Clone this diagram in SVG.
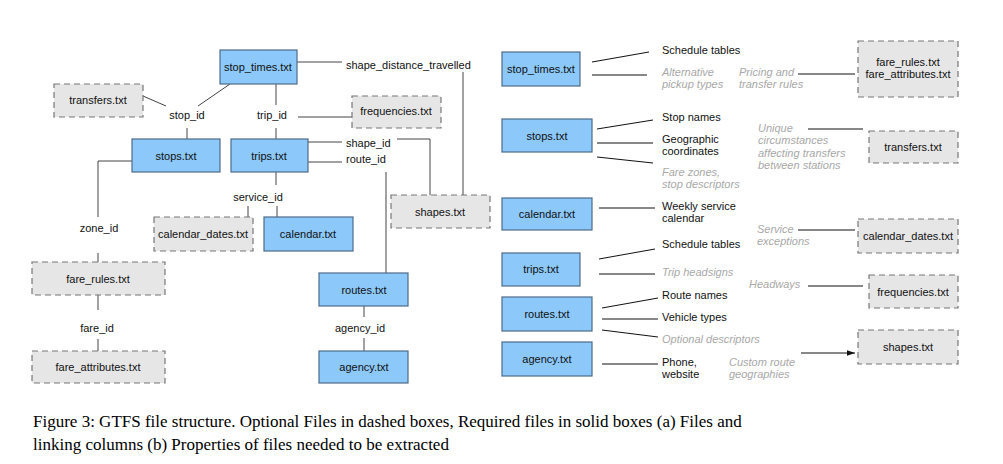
<svg xmlns="http://www.w3.org/2000/svg" width="1003" height="464" viewBox="0 0 1003 464">
<style>
text{font-family:"Liberation Sans",Arial,sans-serif;font-size:11px;fill:#111}
.c{text-anchor:middle}
.g{fill:#a8a8a8;font-style:italic}
.req{fill:#8cc8fa;stroke:#4d6b88;stroke-width:1.2}
.opt{fill:#e6e6e6;stroke:#777;stroke-width:1.2;stroke-dasharray:6 4}
.ln{fill:none;stroke:#444;stroke-width:1}
.ar{fill:none;stroke:#111;stroke-width:1;marker-end:url(#a)}
.cap{font-family:"Liberation Serif","Times New Roman",serif;font-size:17px;fill:#000}
</style>
<defs><marker id="a" viewBox="0 0 10 10" refX="10" refY="5" markerWidth="8" markerHeight="8" orient="auto"><path d="M0,1.5L10,5L0,8.5z" fill="#111"/></marker></defs>
<rect width="1003" height="464" fill="#fff"/>
<g id="connectors">
<path class="ln" d="M297,62H342M463,72V195M230,84L198,106M143,96L166,106M187,128V139M276,84V105M276,128V139M298,117H352M308,142H342M308,162H342M397,139H430V195M386,172V273M276,172V185M248,206V217M277,206V217M132,161H98V217M98,253V262M98,295V310M98,339V351M364,306V317M364,338V351"/>
<path class="ar" d="M649,52L592,62M647,75H592M653,120L597,129M653,143H597M653,163L597,157M655,208H599M655,249L599,259M655,274H599M658,298L602,308M658,319H602M658,337L602,330M658,364H602M798,74H855M808,129H863M798,230H855M808,286H863M801,353H855"/>
</g>
<g id="stop_times"><rect class="req" x="220" y="50" width="77" height="34"/><text class="c" x="258" y="71">stop_times.txt</text></g>
<g id="transfers"><rect class="opt" x="54" y="84" width="89" height="33"/><text class="c" x="98" y="104">transfers.txt</text></g>
<g id="frequencies"><rect class="opt" x="352" y="96" width="89" height="32"/><text class="c" x="396" y="115">frequencies.txt</text></g>
<g id="stops"><rect class="req" x="132" y="139" width="88" height="33"/><text class="c" x="176" y="160">stops.txt</text></g>
<g id="trips"><rect class="req" x="231" y="139" width="77" height="33"/><text class="c" x="269" y="160">trips.txt</text></g>
<g id="shapes"><rect class="opt" x="391" y="195" width="99" height="33"/><text class="c" x="440" y="216">shapes.txt</text></g>
<g id="calendar_dates"><rect class="opt" x="154" y="217" width="99" height="34"/><text class="c" x="203" y="238">calendar_dates.txt</text></g>
<g id="calendar"><rect class="req" x="264" y="217" width="89" height="34"/><text class="c" x="308" y="238">calendar.txt</text></g>
<g id="fare_rules"><rect class="opt" x="32" y="262" width="133" height="33"/><text class="c" x="98" y="283">fare_rules.txt</text></g>
<g id="fare_attributes"><rect class="opt" x="32" y="351" width="133" height="32"/><text class="c" x="98" y="371">fare_attributes.txt</text></g>
<g id="routes"><rect class="req" x="319" y="273" width="89" height="33"/><text class="c" x="364" y="294">routes.txt</text></g>
<g id="agency"><rect class="req" x="319" y="351" width="89" height="32"/><text class="c" x="364" y="371">agency.txt</text></g>
<g id="edge-labels">
<text x="346" y="69">shape_distance_travelled</text>
<text class="c" x="187" y="119">stop_id</text>
<text class="c" x="272" y="119">trip_id</text>
<text x="346" y="147">shape_id</text>
<text x="346" y="163">route_id</text>
<text class="c" x="258" y="201">service_id</text>
<text class="c" x="99" y="232">zone_id</text>
<text class="c" x="97" y="332">fare_id</text>
<text class="c" x="360" y="332">agency_id</text>
</g>
<g id="r_stop_times"><rect class="req" x="502" y="52" width="78" height="34"/><text class="c" x="541" y="73">stop_times.txt</text></g>
<g id="r_stops"><rect class="req" x="502" y="119" width="90" height="33"/><text class="c" x="547" y="140">stops.txt</text></g>
<g id="r_calendar"><rect class="req" x="502" y="198" width="90" height="32"/><text class="c" x="547" y="218">calendar.txt</text></g>
<g id="r_trips"><rect class="req" x="502" y="253" width="78" height="33"/><text class="c" x="541" y="273">trips.txt</text></g>
<g id="r_routes"><rect class="req" x="502" y="297" width="90" height="34"/><text class="c" x="547" y="318">routes.txt</text></g>
<g id="r_agency"><rect class="req" x="502" y="342" width="90" height="34"/><text class="c" x="547" y="363">agency.txt</text></g>
<g id="r_fare"><rect class="opt" x="858" y="41" width="100" height="56"/><text class="c" x="908" y="66">fare_rules.txt</text><text class="c" x="908" y="78">fare_attributes.txt</text></g>
<g id="r_transfers"><rect class="opt" x="869" y="131" width="89" height="32"/><text class="c" x="913" y="151">transfers.txt</text></g>
<g id="r_calendar_dates"><rect class="opt" x="858" y="219" width="100" height="34"/><text class="c" x="908" y="240">calendar_dates.txt</text></g>
<g id="r_frequencies"><rect class="opt" x="869" y="275" width="89" height="33"/><text class="c" x="913" y="296">frequencies.txt</text></g>
<g id="r_shapes"><rect class="opt" x="858" y="330" width="100" height="34"/><text class="c" x="908" y="351">shapes.txt</text></g>
<g id="properties">
<text x="662" y="54">Schedule tables</text>
<text class="g" x="662" y="76">Alternative</text><text class="g" x="662" y="88">pickup types</text>
<text class="g" x="739" y="76">Pricing and</text><text class="g" x="739" y="88">transfer rules</text>
<text x="662" y="121">Stop names</text>
<text x="662" y="143">Geographic</text><text x="662" y="155">coordinates</text>
<text class="g" x="662" y="176">Fare zones,</text><text class="g" x="662" y="188">stop descriptors</text>
<text class="g" x="758" y="132">Unique</text><text class="g" x="758" y="144">circumstances</text><text class="g" x="758" y="157">affecting transfers</text><text class="g" x="758" y="169">between stations</text>
<text x="662" y="210">Weekly service</text><text x="662" y="222">calendar</text>
<text class="g" x="757" y="233">Service</text><text class="g" x="757" y="245">exceptions</text>
<text x="662" y="248">Schedule tables</text>
<text class="g" x="662" y="276">Trip headsigns</text>
<text class="g" x="749" y="288">Headways</text>
<text x="662" y="299">Route names</text>
<text x="662" y="321">Vehicle types</text>
<text class="g" x="662" y="343">Optional descriptors</text>
<text x="662" y="366">Phone,</text><text x="662" y="378">website</text>
<text class="g" x="729" y="366">Custom route</text><text class="g" x="729" y="378">geographies</text>
</g>
<text class="cap" x="33" y="427">Figure 3: GTFS file structure.  Optional Files in dashed boxes, Required files in solid boxes (a) Files and</text>
<text class="cap" x="33" y="450">linking columns (b) Properties of files needed to be extracted</text>
</svg>
